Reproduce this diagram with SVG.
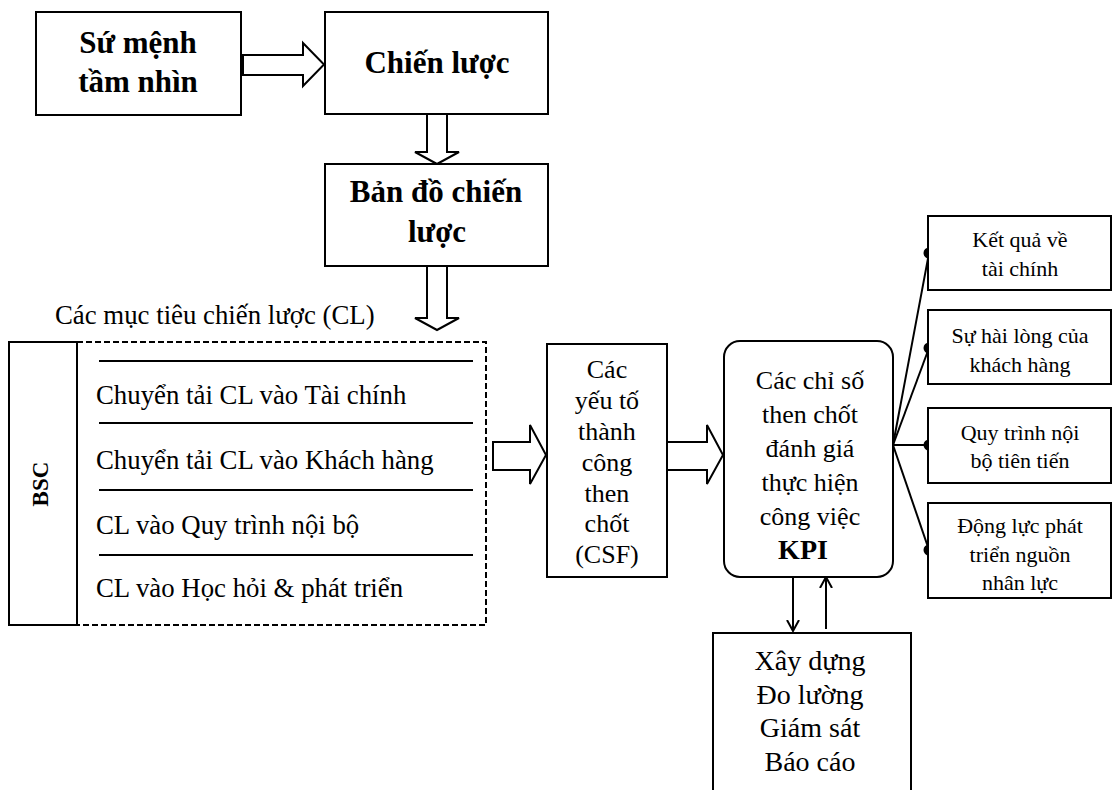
<svg xmlns="http://www.w3.org/2000/svg" width="1113" height="790" viewBox="0 0 1113 790">
<style>
.box{fill:#fff;stroke:#000;stroke-width:2}
.harrow{fill:#fff;stroke:#000;stroke-width:2;stroke-linejoin:miter}
.ln{fill:none;stroke:#000;stroke-width:2}
text{font-family:'Liberation Serif',serif;fill:#000}
.t{font-size:26px;text-anchor:middle}
.tl{font-size:26.8px}
.b{font-size:31px;font-weight:bold;text-anchor:middle}
.s{font-size:22px;text-anchor:middle}
.x{font-size:28px;text-anchor:middle}
</style>
<defs>
<marker id="ah" viewBox="0 0 12 14" refX="11" refY="7" markerWidth="12" markerHeight="14" markerUnits="userSpaceOnUse" orient="auto">
<path d="M0,1 L11,7 L0,13" fill="none" stroke="#000" stroke-width="2"/>
</marker>
</defs>
<g id="connectors">
<polygon class="harrow" points="243,55 303,55 303,43 324,64.5 303,86 303,75 243,75"/>
<polygon class="harrow" points="427,114 447,114 447,152 459,152 437,164 415,152 427,152"/>
<polygon class="harrow" points="427,266 447,266 447,318 459,318 437,330 415,318 427,318"/>
<polygon class="harrow" points="493,442 530,442 530,425 546,455 530,484 530,470 493,470"/>
<polygon class="harrow" points="667,442 707,442 707,425 723,455 707,484 707,470 667,470"/>
<line class="ln" x1="893" y1="445" x2="929" y2="253"/>
<line class="ln" x1="893" y1="445" x2="929" y2="348"/>
<line class="ln" x1="893" y1="445" x2="929" y2="445"/>
<line class="ln" x1="893" y1="445" x2="929" y2="550"/>
<circle cx="929" cy="253" r="5.5" fill="#000"/>
<circle cx="929" cy="348" r="5.5" fill="#000"/>
<circle cx="929" cy="445" r="5.5" fill="#000"/>
<circle cx="929" cy="550" r="5.5" fill="#000"/>
<line class="ln" x1="793" y1="577" x2="793" y2="631" marker-end="url(#ah)"/>
<line class="ln" x1="826" y1="629" x2="826" y2="577" marker-end="url(#ah)"/>
</g>

<g id="su-menh">
<rect class="box" x="36" y="12" width="205" height="103"/>
<text class="b" x="138" y="53" font-family="Liberation Serif">Sứ mệnh</text>
<text class="b" x="138" y="92" font-family="Liberation Serif">tầm nhìn</text>
</g>

<g id="chien-luoc">
<rect class="box" x="325" y="12" width="223" height="102"/>
<text class="b" x="437" y="73" font-family="Liberation Serif">Chiến lược</text>
</g>

<g id="ban-do">
<rect class="box" x="325" y="164" width="223" height="102"/>
<text class="b" x="436" y="202" font-family="Liberation Serif">Bản đồ chiến</text>
<text class="b" x="437" y="242" font-family="Liberation Serif">lược</text>
</g>

<g id="muc-tieu-label">
<text class="tl" x="55" y="324" font-family="Liberation Serif">Các mục tiêu chiến lược (CL)</text>
</g>

<g id="bsc">
<rect class="box" x="9" y="342" width="68" height="283"/>
<text transform="translate(48,484) rotate(-90)" font-family="Liberation Serif" font-size="23" font-weight="bold" text-anchor="middle">BSC</text>
</g>

<g id="muc-tieu">
<rect x="77" y="342" width="409" height="283" fill="none" stroke="#000" stroke-width="2" stroke-dasharray="6,3"/>
<line class="ln" x1="99" y1="361" x2="473" y2="361"/>
<line class="ln" x1="99" y1="423" x2="473" y2="423"/>
<line class="ln" x1="99" y1="490" x2="473" y2="490"/>
<line class="ln" x1="99" y1="555" x2="473" y2="555"/>
<text class="tl" x="96" y="404" font-family="Liberation Serif">Chuyển tải CL vào Tài chính</text>
<text class="tl" x="96" y="469" font-family="Liberation Serif">Chuyển tải CL vào Khách hàng</text>
<text class="tl" x="96" y="534" font-family="Liberation Serif">CL vào Quy trình nội bộ</text>
<text class="tl" x="96" y="597" font-family="Liberation Serif">CL vào Học hỏi &amp; phát triển</text>
</g>

<g id="csf">
<rect class="box" x="547" y="344" width="120" height="233"/>
<text class="t" x="607" y="378" font-family="Liberation Serif">Các</text>
<text class="t" x="607" y="409" font-family="Liberation Serif">yếu tố</text>
<text class="t" x="607" y="440" font-family="Liberation Serif">thành</text>
<text class="t" x="607" y="471" font-family="Liberation Serif">công</text>
<text class="t" x="607" y="502" font-family="Liberation Serif">then</text>
<text class="t" x="607" y="532" font-family="Liberation Serif">chốt</text>
<text class="t" x="607" y="563" font-family="Liberation Serif">(CSF)</text>
</g>

<g id="kpi">
<rect class="box" x="724" y="341" width="169" height="236" rx="16"/>
<text class="t" x="810" y="389" font-family="Liberation Serif">Các chỉ số</text>
<text class="t" x="810" y="423" font-family="Liberation Serif">then chốt</text>
<text class="t" x="810" y="457" font-family="Liberation Serif">đánh giá</text>
<text class="t" x="810" y="491" font-family="Liberation Serif">thực hiện</text>
<text class="t" x="810" y="525" font-family="Liberation Serif">công việc</text>
<text class="t" x="803" y="559" font-family="Liberation Serif" style="font-size:28px;font-weight:bold">KPI</text>
</g>

<g id="ket-qua">
<rect class="box" x="928" y="216" width="183" height="74"/>
<text class="s" x="1020" y="247" font-family="Liberation Serif">Kết quả về</text>
<text class="s" x="1020" y="276" font-family="Liberation Serif">tài chính</text>
</g>

<g id="su-hai-long">
<rect class="box" x="928" y="310" width="183" height="74"/>
<text class="s" x="1020" y="343" font-family="Liberation Serif">Sự hài lòng của</text>
<text class="s" x="1020" y="372" font-family="Liberation Serif">khách hàng</text>
</g>

<g id="quy-trinh">
<rect class="box" x="928" y="408" width="183" height="75"/>
<text class="s" x="1020" y="440" font-family="Liberation Serif">Quy trình nội</text>
<text class="s" x="1020" y="468" font-family="Liberation Serif">bộ tiên tiến</text>
</g>

<g id="dong-luc">
<rect class="box" x="928" y="503" width="183" height="95"/>
<text class="s" x="1020" y="533" font-family="Liberation Serif">Động lực phát</text>
<text class="s" x="1020" y="562" font-family="Liberation Serif">triển nguồn</text>
<text class="s" x="1020" y="590" font-family="Liberation Serif">nhân lực</text>
</g>

<g id="xay-dung">
<path class="ln" d="M713,792 L713,633 L911,633 L911,792"/>
<text class="x" x="810" y="670" font-family="Liberation Serif">Xây dựng</text>
<text class="x" x="810" y="704" font-family="Liberation Serif">Đo lường</text>
<text class="x" x="810" y="737" font-family="Liberation Serif">Giám sát</text>
<text class="x" x="810" y="771" font-family="Liberation Serif">Báo cáo</text>
</g>
</svg>
